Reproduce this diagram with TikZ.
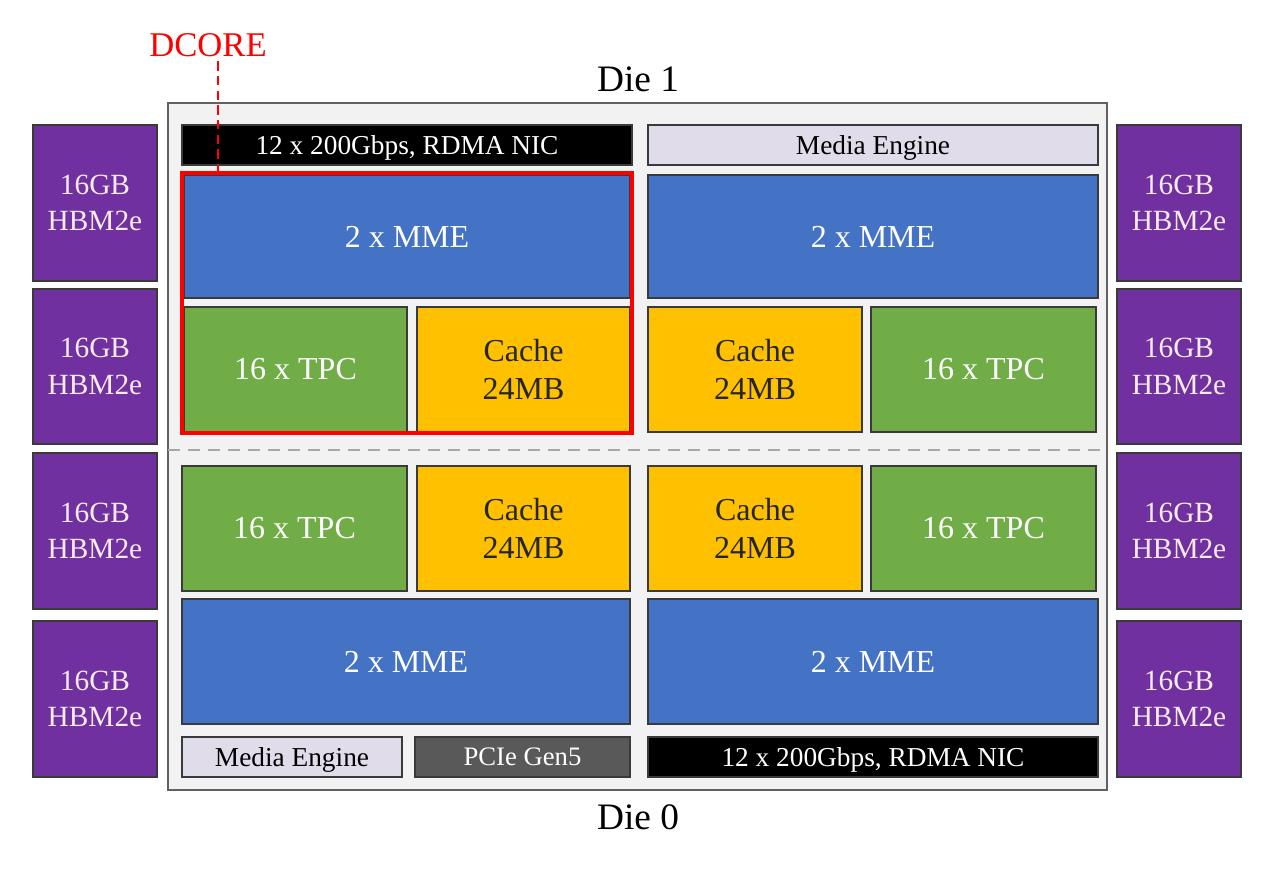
\documentclass[tikz,border=0pt]{standalone}
\usepackage{fontspec}
\setmainfont{Liberation Serif}
\definecolor{mmeblue}{HTML}{4472C4}
\definecolor{tpcgreen}{HTML}{70AD47}
\definecolor{cacheyel}{HTML}{FFC000}
\definecolor{hbmpurple}{HTML}{7030A0}
\definecolor{medialav}{HTML}{E1DCEA}
\definecolor{pciegray}{HTML}{595959}
\definecolor{diefill}{HTML}{F2F2F2}
\definecolor{edgegray}{HTML}{3A3A3A}
\newcommand\blkbox[7]{%
  \node[#2, minimum width={(#5-#3)*0.75pt}, minimum height={(#6-#4)*0.75pt}]
    (#1) at ({(#3+#5)/2},{(#4+#6)/2}) {#7};}
\tikzset{
  blk/.style={inner sep=0pt, outer sep=0pt, draw=edgegray, line width=1.1pt, align=center},
  mme/.style={blk, fill=mmeblue, text=white, font=\fontsize{24}{28}\selectfont},
  tpc/.style={blk, fill=tpcgreen, text=white, font=\fontsize{24}{28}\selectfont},
  cache/.style={blk, fill=cacheyel, text=black!85, font=\fontsize{24}{28.5}\selectfont},
  hbm/.style={blk, fill=hbmpurple, text=white!92!purple, font=\fontsize{22}{27.5}\selectfont},
  bar/.style={blk, text depth=0pt},
  nic/.style={bar, fill=black, text=white, font=\fontsize{20.5}{22}\selectfont},
  media/.style={bar, fill=medialav, text=black, font=\fontsize{20.5}{22}\selectfont},
  pcie/.style={bar, fill=pciegray, text=white, font=\fontsize{20}{22}\selectfont},
  diebox/.style={inner sep=0pt, outer sep=0pt, draw=edgegray!80, fill=diefill, line width=1.5pt},
  corebox/.style={inner sep=0pt, outer sep=0pt, draw=red, line width=2.4pt},
  dielabel/.style={font=\fontsize{28}{32}\selectfont, text=black},
}
\begin{document}
\begin{tikzpicture}[x=0.75pt,y=-0.75pt]
\useasboundingbox[fill=white] (0,0) rectangle (1280,869);
% die outline
\blkbox{die}{diebox}{168}{103}{1107}{790}{}
\node[dielabel] (die1) at (638,79) {Die 1};
\node[dielabel] (die0) at (638,817) {Die 0};
% HBM stacks
\foreach \i/\ya/\yb in {1/125/281,2/289/444,3/453/609,4/621/777}{
  \blkbox{hbmL\i}{hbm}{33}{\ya}{157}{\yb}{16GB\\HBM2e}
  \blkbox{hbmR\i}{hbm}{1117}{\ya}{1241}{\yb}{16GB\\HBM2e}
}
% Die 1 (top)
\blkbox{nicT}{nic}{182}{125}{632}{165}{12 x 200Gbps, RDMA NIC}
\blkbox{mediaT}{media}{648}{125}{1098}{165}{Media Engine}
\blkbox{mmeTL}{mme}{184}{175}{630}{298}{2 x MME}
\blkbox{mmeTR}{mme}{648}{175}{1098}{298}{2 x MME}
\blkbox{tpcTL}{tpc}{184}{307}{407}{432}{16 x TPC}
\blkbox{cacheTL}{cache}{417}{307}{630}{432}{Cache\\24MB}
\blkbox{cacheTR}{cache}{648}{307}{862}{432}{Cache\\24MB}
\blkbox{tpcTR}{tpc}{871}{307}{1096}{432}{16 x TPC}
% separator
\coordinate (sep) at (0,450);
\draw[gray!70, dash pattern=on 9pt off 6pt, line width=1.5pt] (die.west |- sep) -- (die.east |- sep);
% Die 0 (bottom)
\blkbox{tpcBL}{tpc}{182}{466}{407}{591}{16 x TPC}
\blkbox{cacheBL}{cache}{417}{466}{630}{591}{Cache\\24MB}
\blkbox{cacheBR}{cache}{648}{466}{862}{591}{Cache\\24MB}
\blkbox{tpcBR}{tpc}{871}{466}{1096}{591}{16 x TPC}
\blkbox{mmeBL}{mme}{182}{599}{630}{724}{2 x MME}
\blkbox{mmeBR}{mme}{648}{599}{1098}{724}{2 x MME}
\blkbox{mediaB}{media}{182}{737}{402}{777}{Media Engine}
\blkbox{pcieB}{pcie}{415}{737}{630}{777}{PCIe Gen5}
\blkbox{nicB}{nic}{648}{737}{1098}{777}{12 x 200Gbps, RDMA NIC}
% DCORE highlight
\blkbox{dcorebox}{corebox}{182}{173}{632}{433}{}
\node[text=red, font=\fontsize{26}{30}\selectfont] (dcore) at (208,45) {DCORE};
\coordinate (dcx) at (218,0);
\draw[red, dash pattern=on 7pt off 4pt, line width=1.3pt] (dcore.south -| dcx) -- (dcorebox.north -| dcx);
\end{tikzpicture}
\end{document}
